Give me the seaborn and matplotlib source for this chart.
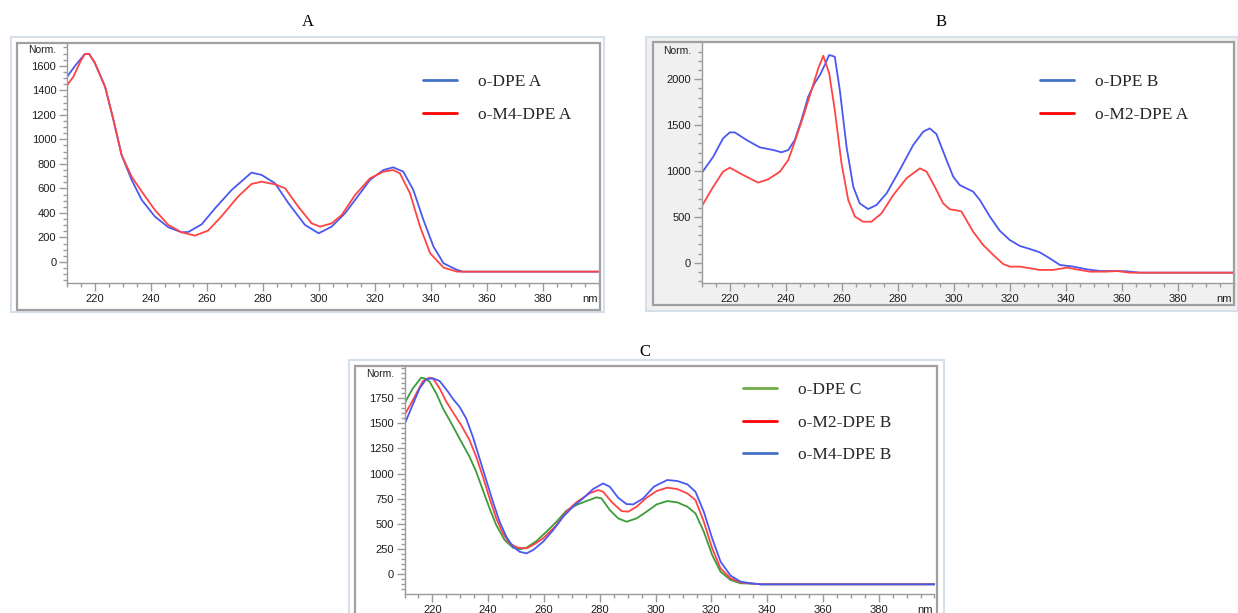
import numpy as np
import matplotlib
matplotlib.use('Agg')
import matplotlib.pyplot as plt
from matplotlib.patches import Rectangle
from matplotlib.lines import Line2D
from matplotlib.ticker import FixedLocator, MultipleLocator
import seaborn as sns

# ---- panel A : o-DPE A / o-M4-DPE A ----
wl_a1 = [210, 213, 216.5, 218, 220, 223.7, 226.7, 229.6, 233.2, 236.8, 241.5, 246.3, 251, 253.5,
         258.2, 263, 268.9, 276, 279.6, 284.4, 289.2, 295.1, 300, 304.6, 309.4, 313, 318.3, 323.1,
         326.6, 330.2, 333.8, 337.4, 341, 344.6, 349.4, 351.5, 400]
ab_a1 = [1506, 1600, 1697, 1697, 1626, 1430, 1158, 873, 669, 506, 370, 283, 242, 245,
         307, 438, 587, 729, 710, 642, 479, 302, 234, 288, 397, 506, 669, 750,
         772, 737, 587, 343, 125, -11, -65, -79, -79]
wl_a2 = [210, 212.4, 215, 216.5, 218, 220, 223.7, 226.7, 229.6, 233.2, 236.8, 241.5, 246.3, 251,
         255.8, 260.5, 265.2, 271.2, 276, 279.6, 284.4, 288, 292.7, 297.5, 300.5, 304.6, 308.2, 313,
         318.3, 323.1, 326.6, 329, 332.6, 336.2, 339.8, 344.6, 349.4, 400]
ab_a2 = [1436, 1512, 1640, 1697, 1697, 1626, 1430, 1158, 873, 696, 574, 424, 302, 242,
         215, 256, 370, 533, 636, 655, 633, 601, 451, 315, 288, 315, 383, 546,
         682, 737, 750, 723, 560, 288, 71, -46, -79, -79]

# ---- panel B : o-DPE B / o-M2-DPE A ----
wl_b1 = [210, 214.2, 217.7, 220.1, 221.9, 226.1, 230.8, 235.6, 238.6, 241, 243.3, 245.7, 248.1,
         250.5, 252.3, 254, 255.6, 257.6, 259.4, 261.8, 264.2, 266.5, 269.5, 272.5, 276.1, 280.8,
         285.6, 289.2, 291.5, 293.9, 297.5, 299.9, 302.2, 304.6, 307, 309.4, 313, 316.5, 320.1,
         323.7, 327.3, 330.8, 334.4, 338, 342.8, 347.5, 352.3, 357, 361.8, 366.6, 400]
ab_b1 = [975, 1156, 1356, 1421, 1421, 1338, 1258, 1229, 1204, 1229, 1338, 1556, 1810,
         1963, 2047, 2156, 2265, 2247, 1883, 1265, 829, 647, 585, 629, 756, 1011,
         1283, 1429, 1465, 1403, 1120, 938, 847, 811, 775, 684, 502, 349, 247,
         182, 149, 113, 47, -25, -43, -72, -91, -91, -94, -109, -109]
wl_b2 = [210, 214.2, 217.7, 220.1, 224.9, 230.2, 233.8, 238, 241, 243.3, 246.3, 249.3, 251.7,
         253.5, 255.6, 257.6, 260, 262.4, 264.8, 267.7, 270.7, 274.3, 278.5, 283.2, 288, 290.4,
         293.3, 296.3, 298.7, 301.2, 302.8, 304.6, 307, 310.6, 314.2, 317.7, 320.1, 323.7, 327.3,
         330.8, 335.6, 340.4, 345.1, 348.7, 354.7, 358.3, 363, 400]
ab_b2 = [611, 829, 993, 1036, 956, 873, 909, 993, 1120, 1320, 1592, 1883, 2119,
         2257, 2065, 1665, 1084, 684, 502, 447, 447, 538, 738, 920, 1029, 993,
         829, 647, 582, 570, 560, 466, 338, 193, 84, -14, -43, -43, -61,
         -79, -79, -54, -79, -98, -98, -91, -109, -109]

# ---- panel C : o-DPE C / o-M2-DPE B / o-M4-DPE B ----
wl_c1 = [210, 213, 216, 217.2, 219, 221.4, 223.8, 226.8, 229.7, 233.3, 235.7, 238.1, 240.5, 242.9,
         245.9, 248.9, 251.3, 253.7, 257.3, 260.9, 264.5, 268, 271.6, 275.2, 278.8, 280.6, 283.6,
         286.6, 289.6, 293.2, 296.8, 300.4, 304.2, 307.8, 311.4, 314.3, 317.3, 320.3, 323.3, 326.9,
         330.5, 335.3, 337.7, 400]
ab_c1 = [1696, 1845, 1951, 1944, 1911, 1795, 1646, 1498, 1349, 1167, 1018, 836, 654, 489,
         340, 264, 248, 264, 330, 423, 522, 631, 688, 727, 764, 754, 638,
         555, 522, 555, 622, 694, 727, 714, 671, 605, 423, 192, 26, -56,
         -89, -93, -99, -99]
wl_c2 = [210, 213, 216.6, 219, 220.2, 222.6, 225, 228, 230.3, 233.3, 235.7, 238.1, 240.5, 242.9,
         245.3, 247.7, 250.7, 253.7, 256.1, 259.7, 264.5, 268, 271.6, 276.4, 279.4, 281.2, 284.2,
         287.8, 290.2, 293.2, 296.8, 300.4, 304.2, 307.8, 311.4, 314.3, 317.3, 320.3, 323.3, 326.9,
         330.5, 335.3, 337.7, 400]
ab_c2 = [1580, 1729, 1918, 1951, 1944, 1845, 1712, 1580, 1481, 1332, 1167, 969, 754, 555,
         406, 307, 264, 258, 291, 357, 489, 621, 714, 804, 836, 820, 720,
         628, 622, 671, 760, 827, 860, 846, 803, 737, 522, 258, 59, -40,
         -80, -93, -99, -99]
wl_c3 = [210, 212.4, 215.4, 217.8, 220.2, 222.6, 225.6, 227.4, 229.7, 232.1, 234.5, 236.9, 239.3,
         241.7, 244.1, 246.5, 248.9, 251.3, 253.7, 256.1, 259.7, 263.3, 266.9, 270.4, 274, 277.6,
         281.2, 283.6, 286.6, 289.6, 292, 295.6, 299.4, 304.2, 307.8, 311.4, 314.3, 317.3, 320.3,
         323.3, 326.9, 330.5, 334.1, 337.7, 400]
ab_c3 = [1488, 1647, 1845, 1937, 1944, 1918, 1812, 1739, 1663, 1547, 1365, 1150, 935,
         720, 522, 373, 274, 224, 208, 241, 324, 439, 572, 671, 754, 846,
         902, 869, 760, 697, 694, 754, 870, 936, 926, 893, 820, 621, 357,
         126, -13, -73, -89, -99, -99]

W, H = 1238, 613
BLUE, RED, GREEN = '#4a58f2', '#ff4444', '#3c9c3c'
LEG_BLUE, LEG_RED, LEG_GREEN = '#4472c4', '#ff0000', '#70ad47'

sns.set_theme(style='white')
plt.rcParams['font.family'] = ['Liberation Sans', 'DejaVu Sans']

fig = plt.figure(figsize=(W / 100, H / 100), dpi=100)
fig.patch.set_facecolor('white')


def rect(l, t, r, b):
    return (l / W, 1 - b / H), (r - l) / W, (b - t) / H


def frame(outer, inner, bg):
    xy, w, h = rect(*outer)
    fig.add_artist(Rectangle(xy, w, h, transform=fig.transFigure, facecolor=bg,
                             edgecolor='#d6e0ea', lw=1.5, zorder=-2))
    xy, w, h = rect(*inner)
    fig.add_artist(Rectangle(xy, w, h, transform=fig.transFigure, facecolor='none',
                             edgecolor='#a0a0a0', lw=1.6, zorder=3))


def make_axes(box, ylim, yticks, yminor, norm_y):
    l, t, r, b = box
    ax = fig.add_axes([l / W, 1 - b / H, (r - l) / W, (b - t) / H])
    ax.set_facecolor('white')
    ax.set_xlim(210, 400)
    ax.set_ylim(*ylim)
    for s in ['top', 'right']:
        ax.spines[s].set_visible(False)
    for s in ['left', 'bottom']:
        ax.spines[s].set_color('#9a9a9a')
        ax.spines[s].set_linewidth(1.0)
    ax.xaxis.set_major_locator(FixedLocator(np.arange(220, 400, 20)))
    ax.xaxis.set_minor_locator(MultipleLocator(5))
    ax.yaxis.set_major_locator(FixedLocator(yticks))
    ax.yaxis.set_minor_locator(MultipleLocator(yminor))
    ax.tick_params(which='major', length=5.5, width=1, color='#9a9a9a', pad=2,
                   labelsize=8, labelcolor='#1e1e1e', direction='out', bottom=True, left=True)
    ax.tick_params(which='minor', length=3, width=1, color='#9a9a9a', direction='out',
                   bottom=True, left=True)
    ax.set_xlabel('')
    ax.set_ylabel('')
    ax.annotate('Norm.', xy=(0, norm_y), xycoords=('axes fraction', 'data'),
                xytext=(-7.5, 0), textcoords='offset points', ha='right', va='center',
                fontsize=7.5, color='#1e1e1e')
    ax.annotate('nm', xy=(1, 0), xycoords='axes fraction', xytext=(-1, -7.5),
                textcoords='offset points', ha='right', va='top', fontsize=8, color='#1e1e1e')
    return ax


def legend(ax, colors, labels, x, y):
    handles = [Line2D([], [], color=c, lw=2) for c in colors]
    ax.legend(handles, labels, loc='upper left', bbox_to_anchor=(x / W, 1 - y / H),
              bbox_transform=fig.transFigure, frameon=False,
              prop={'family': 'Liberation Serif', 'size': 12.5},
              handlelength=1.96, handletextpad=1.2, labelspacing=0.95,
              borderpad=0, borderaxespad=0)


# panel A
frame((11, 37, 604, 312), (17, 43, 600, 310), 'white')
ax_a = make_axes((66.7, 43, 598.7, 283.3), (-174, 1786), np.arange(0, 1601, 200), 50, 1729)
sns.lineplot(x=wl_a1, y=ab_a1, ax=ax_a, color=BLUE, lw=1.3, sort=False)
sns.lineplot(x=wl_a2, y=ab_a2, ax=ax_a, color=RED, lw=1.3, sort=False)
legend(ax_a, [LEG_BLUE, LEG_RED], ['o-DPE A', 'o-M4-DPE A'], 423, 74)

# panel B
frame((646, 37, 1238, 311), (653, 42, 1234, 305), '#f0f0f0')
ax_b = make_axes((701.5, 43.3, 1233.5, 283.3), (-225, 2393), np.arange(0, 2001, 500), 100, 2312)
sns.lineplot(x=wl_b1, y=ab_b1, ax=ax_b, color=BLUE, lw=1.3, sort=False)
sns.lineplot(x=wl_b2, y=ab_b2, ax=ax_b, color=RED, lw=1.3, sort=False)
legend(ax_b, [LEG_BLUE, LEG_RED], ['o-DPE B', 'o-M2-DPE A'], 1040, 74)

# panel C
frame((349, 360, 944, 620), (355, 366, 937, 620), 'white')
ax_c = make_axes((404.5, 366.7, 934.5, 594.3), (-198, 2060), np.arange(0, 1751, 250), 50, 1984)
sns.lineplot(x=wl_c1, y=ab_c1, ax=ax_c, color=GREEN, lw=1.3, sort=False)
sns.lineplot(x=wl_c2, y=ab_c2, ax=ax_c, color=RED, lw=1.3, sort=False)
sns.lineplot(x=wl_c3, y=ab_c3, ax=ax_c, color=BLUE, lw=1.3, sort=False)
legend(ax_c, [LEG_GREEN, LEG_RED, LEG_BLUE], ['o-DPE C', 'o-M2-DPE B', 'o-M4-DPE B'], 743, 382)

# panel letters
for letter, x, y in [('A', 308, 22), ('B', 941, 22), ('C', 645, 352)]:
    fig.text(x / W, 1 - y / H, letter, ha='center', va='center',
             family='Liberation Serif', fontsize=12, color='black')

fig.savefig('out.png', dpi=100, facecolor='white')
